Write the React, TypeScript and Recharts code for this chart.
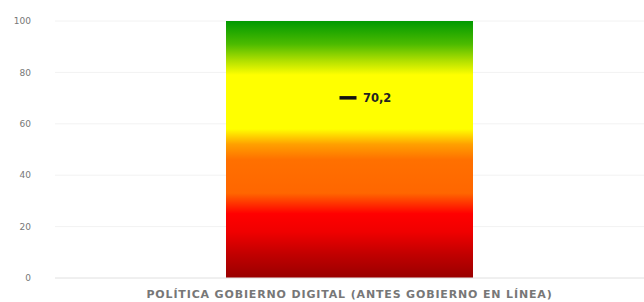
import { ComposedChart, Bar, Line, XAxis, YAxis, CartesianGrid } from "recharts";

const categories = ["POLÍTICA GOBIERNO DIGITAL (ANTES GOBIERNO EN LÍNEA)"];
const scaleMax = [100];
const scores = [70.2];
const yTicks = [0, 20, 40, 60, 80, 100];

const data = categories.map((name, i) => ({
  name,
  max: scaleMax[i],
  score: scores[i],
}));

const gradientStops = [
  { offset: "0%", color: "#009900" },
  { offset: "9%", color: "#4cbb00" },
  { offset: "15%", color: "#aadd00" },
  { offset: "21%", color: "#ffff00" },
  { offset: "42%", color: "#ffff00" },
  { offset: "48%", color: "#ffa000" },
  { offset: "54%", color: "#ff7000" },
  { offset: "67%", color: "#ff6600" },
  { offset: "75%", color: "#ff0000" },
  { offset: "82%", color: "#f00000" },
  { offset: "91%", color: "#c00000" },
  { offset: "100%", color: "#990000" },
];

const font = "DejaVu Sans, Verdana, sans-serif";

function ScoreMark(props: any) {
  const { cx, cy, payload } = props;
  if (cx == null || cy == null) return null;
  return (
    <g>
      <rect x={cx - 10} y={cy - 1.5} width={17} height={3.5} fill="#111" />
      <text
        x={cx + 13.5}
        y={cy}
        dy="0.36em"
        fontSize={11.5}
        fontWeight="bold"
        fill="#222"
        fontFamily={font}
      >
        {String(payload.score).replace(".", ",")}
      </text>
    </g>
  );
}

export default function App() {
  return (
    <div style={{ position: "absolute", left: 0, top: 0, width: 644, height: 302, background: "#fff" }}>
      <ComposedChart
        width={644}
        height={302}
        data={data}
        margin={{ top: 21, right: 0, bottom: 4, left: 0 }}
      >
        <defs>
          <linearGradient id="scoreGrad" x1="0" y1="0" x2="0" y2="1">
            {gradientStops.map((s) => (
              <stop key={s.offset} offset={s.offset} stopColor={s.color} />
            ))}
          </linearGradient>
        </defs>
        <CartesianGrid vertical={false} stroke="#f2f2f2" />
        <XAxis
          dataKey="name"
          tickLine={false}
          axisLine={{ stroke: "#e6e6e6" }}
          tickSize={6}
          tickMargin={6}
          height={20}
          interval={0}
          tick={{
            fontSize: 11,
            fill: "#777",
            fontWeight: "bold",
            letterSpacing: 0.85,
            fontFamily: font,
          }}
        />
        <YAxis
          domain={[0, 100]}
          ticks={yTicks}
          width={55}
          tickLine={false}
          axisLine={false}
          tickSize={0}
          tickMargin={24}
          tick={{ fontSize: 9, fill: "#777", fontFamily: font }}
        />
        <Bar dataKey="max" fill="url(#scoreGrad)" barSize={247} isAnimationActive={false} />
        <Line
          dataKey="score"
          stroke="none"
          dot={<ScoreMark />}
          activeDot={false}
          isAnimationActive={false}
        />
      </ComposedChart>
    </div>
  );
}
